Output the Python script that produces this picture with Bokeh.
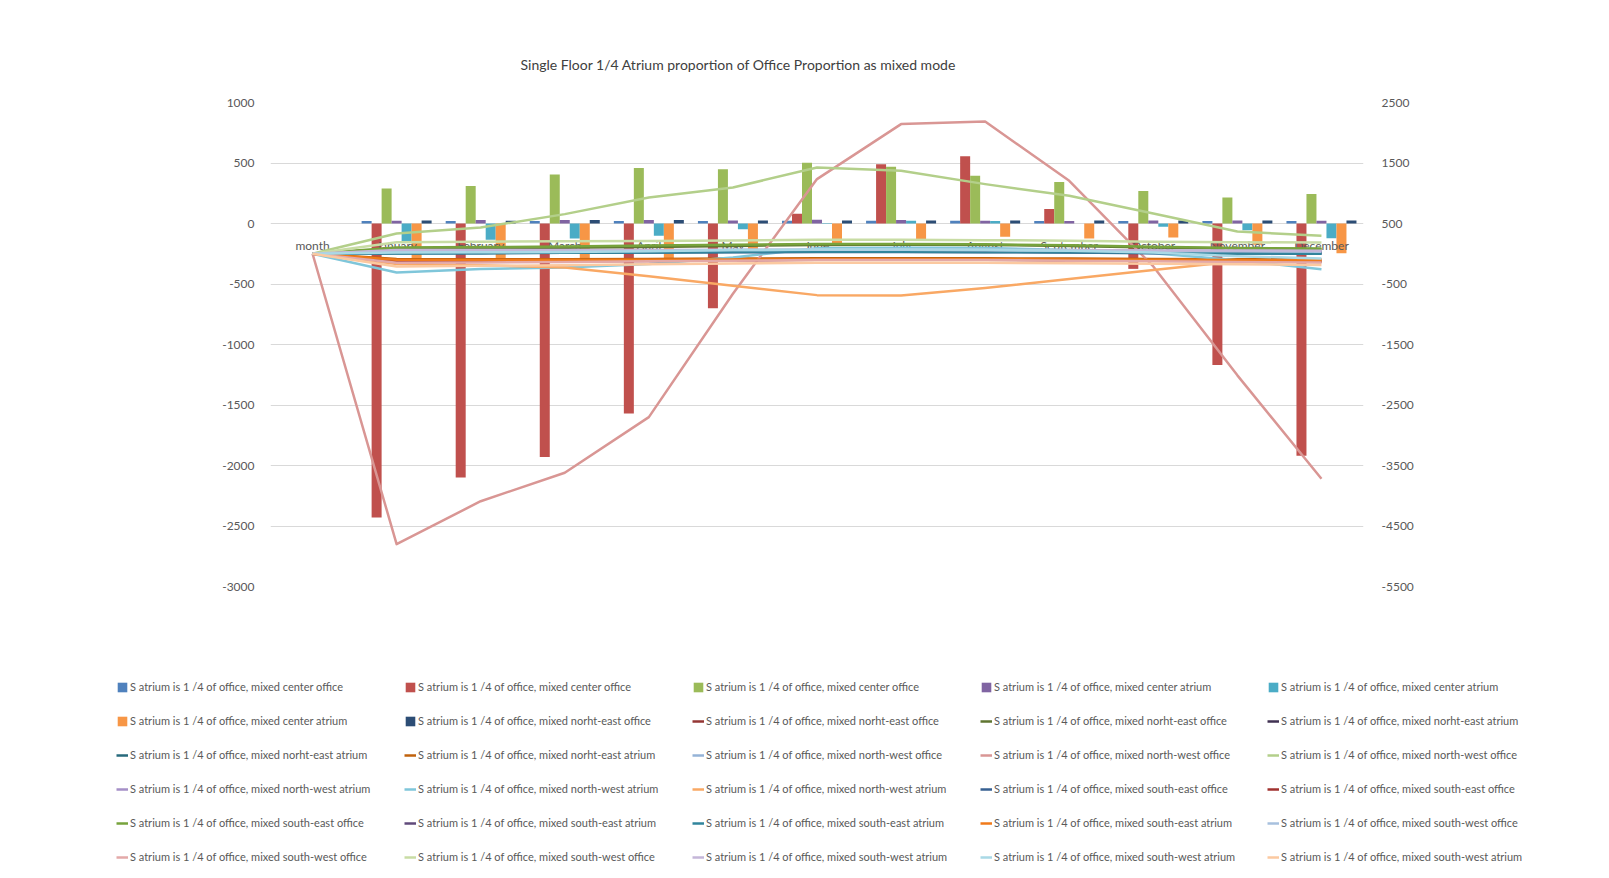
from bokeh.plotting import figure
from bokeh.layouts import column
from bokeh.models import (Range1d, FactorRange, LinearAxis, FixedTicker, Legend,
                          LegendItem, Title, ColumnDataSource)
from bokeh.transform import dodge
from bokeh.core.properties import value
from bokeh.embed import file_html
from bokeh.resources import INLINE

FONT = "Lato"
GRAY = "#595959"

# ---------------- data ----------------
categories = ["month", "January", "February", "March", "April", "May", "June",
              "July", "August", "September", "October", "November", "December"]
months = categories[1:]

title_text = "Single Floor 1/4 Atrium proportion of Office Proportion as mixed mode"

# bar series (primary / left axis), one value per month
bar_center_office_1 = [20, 20, 20, 20, 20, 22, 22, 22, 20, 20, 20, 20]
bar_center_office_2 = [-2430, -2100, -1930, -1570, -700, 80, 490, 555, 120, -375, -1170, -1920]
bar_center_office_3 = [289, 309, 405, 458, 449, 502, 469, 394, 342, 268, 215, 243]
bar_center_atrium_1 = [22, 28, 28, 28, 25, 30, 28, 22, 20, 25, 25, 22]
bar_center_atrium_2 = [-145, -135, -124, -101, -47, -5, 22, 20, 0, -27, -55, -121]
bar_center_atrium_3 = [-336, -310, -310, -343, -212, -184, -129, -110, -124, -116, -175, -245]
bar_ne_office_1 = [25, 22, 28, 28, 25, 25, 25, 25, 25, 25, 25, 25]

# line series (secondary / right axis), one value per category incl. "month"
ne_office_2 = [0, -120, -115, -110, -105, -95, -90, -90, -90, -95, -105, -115, -120]
ne_office_3 = [0, 85, 90, 100, 110, 130, 145, 150, 145, 130, 105, 85, 75]
ne_atrium_1 = [0, 35, 35, 40, 40, 45, 45, 45, 45, 40, 35, 30, 30]
ne_atrium_2 = [0, 15, 20, 25, 30, 35, 40, 40, 35, 30, 20, 15, 10]
ne_atrium_3 = [0, -85, -90, -90, -85, -80, -75, -75, -75, -80, -85, -90, -95]
nw_office_1 = [0, 25, 30, 35, 40, 50, 55, 55, 50, 40, 30, 25, 20]
nw_office_2 = [0, -4800, -4090, -3620, -2700, -660, 1234, 2143, 2186, 1205, -210, -2010, -3720]
nw_office_3 = [0, 335, 434, 655, 930, 1095, 1426, 1371, 1151, 958, 665, 368, 297]
nw_atrium_1 = [0, 50, 50, 50, 50, 50, 55, 55, 55, 50, 50, 45, 45]
nw_atrium_2 = [0, -309, -254, -226, -171, -62, 92, 100, 95, 60, 8, -107, -255]
nw_atrium_3 = [0, -170, -190, -226, -370, -529, -684, -690, -568, -419, -267, -124, -90]
se_office_1 = [0, 10, 10, 15, 20, 25, 30, 30, 25, 20, 10, 5, 0]
se_office_2 = [0, -135, -130, -125, -120, -110, -100, -100, -100, -110, -115, -125, -135]
se_office_3 = [0, 105, 110, 120, 135, 150, 160, 160, 155, 140, 115, 95, 85]
se_atrium_1 = [0, 30, 30, 35, 35, 40, 45, 45, 40, 35, 30, 25, 25]
se_atrium_2 = [0, 5, 10, 15, 20, 30, 35, 35, 30, 25, 15, 5, 0]
se_atrium_3 = [0, -100, -105, -105, -100, -95, -90, -90, -90, -95, -100, -105, -110]
sw_office_1 = [0, 40, 45, 50, 55, 60, 65, 65, 60, 55, 45, 40, 35]
sw_office_2 = [0, -150, -145, -135, -125, -115, -105, -105, -105, -115, -125, -135, -145]
sw_office_3 = [0, 190, 200, 205, 210, 220, 230, 230, 225, 215, 200, 190, 185]
sw_atrium_1 = [0, 60, 60, 60, 60, 65, 65, 65, 60, 60, 55, 55, 50]
sw_atrium_2 = [0, 20, 25, 30, 40, 60, 70, 70, 65, 50, 20, -40, -80]
sw_atrium_3 = [0, -210, -200, -190, -175, -160, -150, -150, -150, -155, -165, -175, -185]

P = "S atrium is 1 /4 of office, mixed "
bar_series = [
    (P + "center office", bar_center_office_1, "#4F81BD"),
    (P + "center office", bar_center_office_2, "#C0504D"),
    (P + "center office", bar_center_office_3, "#9BBB59"),
    (P + "center atrium", bar_center_atrium_1, "#8064A2"),
    (P + "center atrium", bar_center_atrium_2, "#4BACC6"),
    (P + "center atrium", bar_center_atrium_3, "#F79646"),
    (P + "norht-east office", bar_ne_office_1, "#2C4D75"),
]
line_series = [
    (P + "norht-east office", ne_office_2, "#943634"),
    (P + "norht-east office", ne_office_3, "#5F7530"),
    (P + "norht-east atrium", ne_atrium_1, "#403152"),
    (P + "norht-east atrium", ne_atrium_2, "#276A7C"),
    (P + "norht-east atrium", ne_atrium_3, "#C0620C"),
    (P + "north-west office", nw_office_1, "#95B3D7"),
    (P + "north-west office", nw_office_2, "#D99694"),
    (P + "north-west office", nw_office_3, "#B3CF8A"),
    (P + "north-west atrium", nw_atrium_1, "#A58FC7"),
    (P + "north-west atrium", nw_atrium_2, "#7FC6DA"),
    (P + "north-west atrium", nw_atrium_3, "#F9A864"),
    (P + "south-east office", se_office_1, "#376092"),
    (P + "south-east office", se_office_2, "#A0322F"),
    (P + "south-east office", se_office_3, "#77A33C"),
    (P + "south-east atrium", se_atrium_1, "#604A7B"),
    (P + "south-east atrium", se_atrium_2, "#31859C"),
    (P + "south-east atrium", se_atrium_3, "#F07A1A"),
    (P + "south-west office", sw_office_1, "#A7C0DE"),
    (P + "south-west office", sw_office_2, "#E3A9A8"),
    (P + "south-west office", sw_office_3, "#C8DCA4"),
    (P + "south-west atrium", sw_atrium_1, "#C4B6D8"),
    (P + "south-west atrium", sw_atrium_2, "#A9D9E6"),
    (P + "south-west atrium", sw_atrium_3, "#FBC9A0"),
]

left_ticks = [1000, 500, 0, -500, -1000, -1500, -2000, -2500, -3000]
right_ticks = [2500, 1500, 500, -500, -1500, -2500, -3500, -4500, -5500]
label_level = -178   # left-axis value at which the category names sit

# ---------------- main chart ----------------
TOTAL_W, TOTAL_H = 1609, 878
FRAME_L, FRAME_W = 270, 1093
FRAME_T, FRAME_H = 102, 484
BOTTOM_PAD = 12
p = figure(x_range=FactorRange(factors=categories, range_padding=0),
           y_range=Range1d(-3000, 1000),
           frame_width=FRAME_W, frame_height=FRAME_H,
           min_border_left=FRAME_L, min_border_right=TOTAL_W - FRAME_L - FRAME_W,
           min_border_top=FRAME_T, min_border_bottom=BOTTOM_PAD,
           output_backend="svg", toolbar_location=None,
           background_fill_color="white", border_fill_color="white")
p.frame_align = False
p.outline_line_color = None
p.extra_y_ranges = {"right": Range1d(-5500, 2500)}

p.xaxis.visible = False
p.xgrid.grid_line_color = None
p.ygrid.grid_line_color = "#D9D9D9"
p.ygrid.ticker = FixedTicker(ticks=left_ticks)

ya = p.yaxis[0]
ya.ticker = FixedTicker(ticks=left_ticks)
ya.major_label_overrides = {t: str(t) for t in left_ticks}
ya.axis_line_color = None
ya.major_tick_line_color = None
ya.minor_tick_line_color = None
ya.major_label_text_color = GRAY
ya.major_label_text_font = FONT
ya.major_label_text_font_size = "12px"
ya.major_label_standoff = 10

ra = LinearAxis(y_range_name="right", ticker=FixedTicker(ticks=right_ticks))
ra.major_label_overrides = {t: str(t) for t in right_ticks}
ra.axis_line_color = None
ra.major_tick_line_color = None
ra.minor_tick_line_color = None
ra.major_label_text_color = GRAY
ra.major_label_text_font = FONT
ra.major_label_text_font_size = "12px"
ra.major_label_standoff = 12
p.add_layout(ra, "right")

p.add_layout(Title(text=title_text, align="left", offset=250, standoff=59,
                   text_font=FONT, text_font_size="14px", text_font_style="normal",
                   text_color="#404040"), "above")

# bars
n_bars = len(bar_series)
bar_w = 10.0 / (FRAME_W / len(categories))
for i, (name, vals, color) in enumerate(bar_series):
    src = ColumnDataSource(dict(x=months, top=vals))
    off = (i - (n_bars - 1) / 2) * bar_w
    p.vbar(x=dodge("x", off, range=p.x_range), top="top", bottom=0, width=bar_w,
           source=src, fill_color=color, line_color=None)

# category labels
p.text(x=categories, y=[label_level] * len(categories), text=categories,
       text_font=value(FONT), text_font_size="12px", text_color=GRAY,
       text_align="center", text_baseline="middle")

# lines
for name, vals, color in line_series:
    src = ColumnDataSource(dict(x=categories, y=vals))
    p.line(x="x", y="y", source=src, y_range_name="right",
           line_color=color, line_width=2.5, line_join="round")

# ---------------- legend panel (own canvas so nothing is clipped) ----------------
LEG_H = TOTAL_H - FRAME_T - FRAME_H - BOTTOM_PAD
lg = figure(x_range=Range1d(0, 1), y_range=Range1d(0, 1),
            width=TOTAL_W, height=LEG_H, min_border=0,
            output_backend="svg", toolbar_location=None,
            background_fill_color="white", border_fill_color="white")
lg.frame_align = False
lg.outline_line_color = None
lg.axis.visible = False
lg.grid.visible = False

nan = float("nan")
entries = []
for name, vals, color in bar_series:   # legend proxies (nothing visible is drawn)
    r = lg.vbar(x=[nan], top=[nan], width=1, fill_color=color, line_color=None)
    entries.append((name, r))
for name, vals, color in line_series:
    r = lg.line(x=[nan, nan], y=[nan, nan], line_color=color, line_width=2.5)
    entries.append((name, r))

col_x = [116, 404, 692, 980, 1267]
item_h = 14
pitch = 34.3
row6_center_from_bottom = TOTAL_H - 856.5
for c in range(5):
    items = [LegendItem(label=entries[k][0], renderers=[entries[k][1]])
             for k in range(c, len(entries), 5)]
    leg = Legend(items=items,
                 location=(col_x[c], row6_center_from_bottom - item_h / 2),
                 orientation="vertical",
                 padding=0, margin=0, spacing=int(round(pitch - item_h)),
                 border_line_color=None, background_fill_alpha=0,
                 glyph_width=12, glyph_height=12, label_height=item_h,
                 label_standoff=2, label_text_font=FONT,
                 label_text_font_size="11px", label_text_color=GRAY)
    lg.add_layout(leg, "center")

layout = column(p, lg, spacing=0)
open("out.html", "w").write(file_html(layout, INLINE))
